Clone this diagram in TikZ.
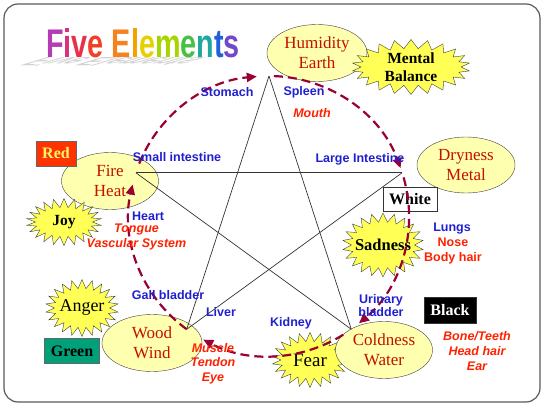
\documentclass[tikz,border=0pt]{standalone}
\usepackage{fontspec}
\setmainfont{Liberation Serif}
\newfontfamily\lblfont{Liberation Sans}
\usepackage{graphicx}
\usepackage{tikz}
\usetikzlibrary{arrows.meta,shapes.geometric,shapes.symbols}

\definecolor{elemfill}{HTML}{FFFFB0}
\definecolor{burstfill}{HTML}{FFFF55}
\definecolor{elemtext}{HTML}{C41000}
\definecolor{organblue}{HTML}{2020D0}
\definecolor{sensered}{HTML}{FF2200}
\definecolor{feedred}{HTML}{990033}
\definecolor{redbox}{HTML}{FF3300}
\definecolor{greenbox}{HTML}{00A078}
% title letters
\definecolor{tA}{HTML}{B43CB4}
\definecolor{tB}{HTML}{D8307A}
\definecolor{tC}{HTML}{E8304A}
\definecolor{tD}{HTML}{F04028}
\definecolor{tE}{HTML}{F5821E}
\definecolor{tF}{HTML}{F5A000}
\definecolor{tG}{HTML}{E8D000}
\definecolor{tH}{HTML}{A8D400}
\definecolor{tI}{HTML}{48C048}
\definecolor{tJ}{HTML}{20A8A0}
\definecolor{tK}{HTML}{2060D8}
\definecolor{tL}{HTML}{7048C8}

\tikzset{
  element/.style={ellipse, draw=black!75, fill=elemfill, text=elemtext,
    align=center, inner sep=0pt, font=\fontsize{17}{20}\selectfont},
  emotion/.style={starburst, draw=black!75, fill=burstfill, random starburst=0,
    starburst points=22, starburst point height=9pt, inner xsep=-6pt,
    inner ysep=-12pt, align=center, font=\bfseries\fontsize{16}{18}\selectfont},
  colorbox/.style={rectangle, draw=black!80, inner sep=0pt,
    font=\bfseries\fontsize{16}{18}\selectfont},
  organ/.style={text=organblue, inner sep=0pt, align=center,
    font=\lblfont\bfseries\fontsize{12.5}{13}\selectfont},
  sense/.style={text=sensered, inner sep=0pt, align=center,
    font=\lblfont\bfseries\itshape\fontsize{12.5}{15}\selectfont},
  starline/.style={draw=black!80, line width=0.7pt},
  feed/.style={draw=feedred, line width=2.2pt, dash pattern=on 9pt off 5pt,
    -{Triangle[length=10pt,width=9pt]}},
}

\begin{document}
\begin{tikzpicture}[x=1pt, y=1pt]
  \useasboundingbox (0,0) rectangle (547,408);
  \draw[black!65, line width=1.2pt, rounded corners=14pt] (4,6) rectangle (540,404);

  % title with its floor shadow
  \begin{scope}[shift={(46,350)}, yscale=-0.3, xslant=-1]
    \node[anchor=base west, inner sep=0pt, transform shape, text=black!18,
      font=\lblfont\bfseries\fontsize{40}{40}\selectfont] (shadow) at (0,0)
      {\scalebox{0.6}[1]{Five Elements}};
  \end{scope}
  \node[anchor=base west, inner sep=0pt,
    font=\lblfont\bfseries\fontsize{40}{40}\selectfont] (title) at (46,350)
    {\scalebox{0.72}[1]{\color{tA}F\color{tB}i\color{tC}v\color{tD}e
      \color{tE}E\color{tF}l\color{tG}e\color{tH}m\color{tI}e\color{tJ}n\color{tK}t\color{tL}s}};

  \node[emotion, minimum width=76pt, minimum height=55pt,
    font=\fontsize{19}{20}\selectfont] (fear) at (310,48) {Fear};

  % the five elements
  \node[element, minimum width=100pt, minimum height=57pt] (earth) at (317,355) {Humidity\\Earth};
  \node[element, minimum width=97pt, minimum height=57pt] (fire) at (110,227) {Fire\\Heat};
  \node[element, minimum width=98pt, minimum height=56pt] (metal) at (466,243) {Dryness\\Metal};
  \node[element, minimum width=100pt, minimum height=57pt] (wood) at (152,65) {Wood\\Wind};
  \node[element, minimum width=97pt, minimum height=57pt] (water) at (384,58) {Coldness\\Water};

  \node[emotion, minimum width=118pt, minimum height=55pt,
    font=\bfseries\fontsize{15.5}{18}\selectfont] (mental) at (411,341) {Mental\\Balance};
  \node[emotion, minimum width=75pt, minimum height=47pt,
    font=\bfseries\fontsize{15.5}{18}\selectfont] (joy) at (64,186) {Joy};
  \node[emotion, minimum width=81pt, minimum height=64pt,
    font=\bfseries\fontsize{16.5}{18}\selectfont] (sadness) at (383,163) {Sadness};
  \node[emotion, minimum width=73pt, minimum height=57pt,
    font=\fontsize{18}{20}\selectfont] (anger) at (82,100) {Anger};

  \node[colorbox, fill=redbox, draw=black!60, text=yellow!60,
    minimum width=40pt, minimum height=25pt] (red) at (56,254.5) {Red};
  \node[colorbox, fill=white, minimum width=54pt, minimum height=24pt] (white) at (410,209) {White};
  \node[colorbox, fill=black, text=white, minimum width=52pt, minimum height=26pt] (black) at (450,98) {Black};
  \node[colorbox, fill=greenbox, draw=black!60, minimum width=55pt, minimum height=25pt] (green) at (72,57) {Green};

  % pentagram
  \coordinate (ctr) at (269,192);
  \def\rad{140}
  \foreach \n/\a in {vtop/90, vfire/162, vmetal/18, vwood/234, vwater/306}
    \coordinate (\n) at ([shift={(\a:\rad)}]ctr);
  \draw[starline] (vtop) -- (vwood);
  \draw[starline] (vtop) -- (vwater);
  \draw[starline] (vfire) -- (vmetal);
  \draw[starline] (vfire) -- (vwater);
  \draw[starline] (vmetal) -- (vwood);

  % generating cycle
  \foreach \s/\e in {158/95, 88/20, 16/-50, -58/-118, -126/-193}
    \draw[feed] ([shift={(\s:\rad)}]ctr) arc[start angle=\s, end angle=\e, radius=\rad];

  % organs and senses
  \node[organ] (stomach) at (227,316) {Stomach};
  \node[organ] (spleen) at (304,316) {Spleen};
  \node[sense] (mouth) at (312,295) {Mouth};
  \node[organ] (smallint) at (177,251) {Small intestine};
  \node[organ, anchor=west] (heart) at (132,192) {Heart};
  \node[sense] (tongue) at (136.5,171.5) {Tongue\\Vascular System};
  \node[organ] (largeint) at (360,249) {Large Intestine};
  \node[organ] (lungs) at (452,179) {Lungs};
  \node[sense, font=\lblfont\bfseries\fontsize{12.5}{15}\selectfont] (nose) at (453,157.5) {Nose\\Body hair};
  \node[organ] (gall) at (168,113) {Gall bladder};
  \node[organ] (liver) at (221,96) {Liver};
  \node[sense, font=\lblfont\bfseries\itshape\fontsize{12.5}{14.5}\selectfont] (muscle) at (213,44.5) {Muscle\\Tendon\\Eye};
  \node[organ] (kidney) at (291,85) {Kidney};
  \node[organ] (urinary) at (381,102) {Urinary\\bladder};
  \node[sense] (bone) at (477,57) {Bone/Teeth\\Head hair\\Ear};
\end{tikzpicture}
\end{document}
